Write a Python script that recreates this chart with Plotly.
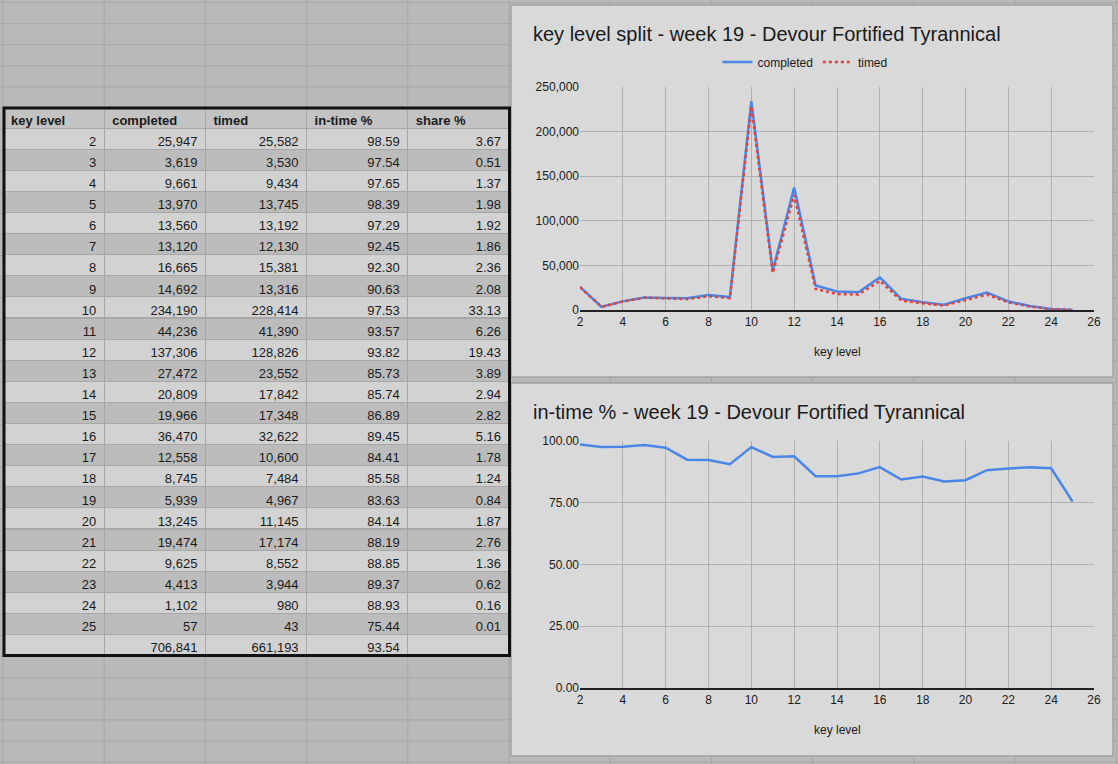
import plotly.graph_objects as go

# canvas size in pixels
W, H = 1118, 764

# sheet data
key_levels = [2, 3, 4, 5, 6, 7, 8, 9, 10, 11, 12, 13, 14, 15, 16, 17, 18, 19, 20, 21, 22, 23, 24, 25]
completed = [25947, 3619, 9661, 13970, 13560, 13120, 16665, 14692, 234190, 44236, 137306, 27472,
             20809, 19966, 36470, 12558, 8745, 5939, 13245, 19474, 9625, 4413, 1102, 57]
timed = [25582, 3530, 9434, 13745, 13192, 12130, 15381, 13316, 228414, 41390, 128826, 23552,
         17842, 17348, 32622, 10600, 7484, 4967, 11145, 17174, 8552, 3944, 980, 43]
in_time_pct = [98.59, 97.54, 97.65, 98.39, 97.29, 92.45, 92.30, 90.63, 97.53, 93.57, 93.82, 85.73,
               85.74, 86.89, 89.45, 84.41, 85.58, 83.63, 84.14, 88.19, 88.85, 89.37, 88.93, 75.44]
share_pct = [3.67, 0.51, 1.37, 1.98, 1.92, 1.86, 2.36, 2.08, 33.13, 6.26, 19.43, 3.89,
             2.94, 2.82, 5.16, 1.78, 1.24, 0.84, 1.87, 2.76, 1.36, 0.62, 0.16, 0.01]
total_completed = 706841
total_timed = 661193
total_in_time = 93.54

headers = ["key level", "completed", "timed", "in-time %", "share %"]

FONT = "Liberation Sans, Arial, sans-serif"
SHEET_BG = "#b9b9b9"
SHEET_LINE = "#a7a7a7"
CHART_BG = "#d9d9d9"
GRID = "#b0b0b0"
BLUE = "#4a86e8"
RED = "#e0443a"
TEXT = "#1a1a1a"


def fx(px):
    return px / W


def fy(py):
    return 1 - py / H


# table columns as displayed text (last row = totals)
col_key = [str(k) for k in key_levels] + [""]
col_completed = [f"{v:,}" for v in completed] + [f"{total_completed:,}"]
col_timed = [f"{v:,}" for v in timed] + [f"{total_timed:,}"]
col_in_time = [f"{v:.2f}" for v in in_time_pct] + [f"{total_in_time:.2f}"]
col_share = [f"{v:.2f}" for v in share_pct] + [""]

n_rows = len(col_key)
row_colors = ["#d2d2d2" if i % 2 == 0 else "#bcbcbc" for i in range(n_rows)]

fig = go.Figure()

fig.add_trace(go.Table(
    domain=dict(x=[fx(3), fx(510)], y=[fy(662), fy(107)]),
    columnwidth=[1, 1, 1, 1, 1],
    header=dict(
        values=headers,
        align="left",
        height=21.1,
        fill_color="#c3c3c3",
        line=dict(color=SHEET_LINE, width=1),
        font=dict(family=FONT, size=13, color=TEXT, weight="bold"),
    ),
    cells=dict(
        values=[col_key, col_completed, col_timed, col_in_time, col_share],
        align="right",
        height=21.1,
        fill_color=[row_colors] * 5,
        line=dict(color=SHEET_LINE, width=1),
        font=dict(family=FONT, size=13, color=TEXT),
    ),
))

# top chart: completed vs timed
fig.add_trace(go.Scatter(
    x=key_levels, y=completed, mode="lines", name="completed",
    line=dict(color=BLUE, width=2.5), xaxis="x", yaxis="y",
))
fig.add_trace(go.Scatter(
    x=key_levels, y=timed, mode="lines", name="timed",
    line=dict(color=RED, width=2.5, dash="dot"), xaxis="x", yaxis="y",
))

# bottom chart: in-time %
fig.add_trace(go.Scatter(
    x=key_levels, y=in_time_pct, mode="lines", name="in-time %",
    line=dict(color=BLUE, width=2.5), xaxis="x2", yaxis="y2", showlegend=False,
))

# spreadsheet grid behind everything
shapes = []
for k in range(12):
    x = 3 + 101.2 * k
    shapes.append(dict(type="line", xref="paper", yref="paper", layer="below",
                       x0=fx(x), x1=fx(x), y0=0, y1=1,
                       line=dict(color=SHEET_LINE, width=1)))
for k in range(37):
    y = 2.5 + 21.1 * k
    shapes.append(dict(type="line", xref="paper", yref="paper", layer="below",
                       x0=0, x1=1, y0=fy(y), y1=fy(y),
                       line=dict(color=SHEET_LINE, width=1)))

# chart cards
for top, bottom in [(5, 377), (383, 756)]:
    shapes.append(dict(type="rect", xref="paper", yref="paper", layer="below",
                       x0=fx(511), x1=fx(1113), y0=fy(bottom), y1=fy(top),
                       fillcolor=CHART_BG, line=dict(color="#a3a3a3", width=1.5)))

# thick border around the table
shapes.append(dict(type="rect", xref="paper", yref="paper", layer="above",
                   x0=fx(4), x1=fx(509.5), y0=fy(655.5), y1=fy(108),
                   line=dict(color="#111111", width=3)))

annotations = [
    dict(text="key level split - week 19 - Devour Fortified Tyrannical",
         x=fx(531), y=fy(34), xref="paper", yref="paper", xanchor="left", yanchor="middle",
         showarrow=False, font=dict(family=FONT, size=20, color=TEXT)),
    dict(text="in-time % - week 19 - Devour Fortified Tyrannical",
         x=fx(531), y=fy(412), xref="paper", yref="paper", xanchor="left", yanchor="middle",
         showarrow=False, font=dict(family=FONT, size=20, color=TEXT)),
    dict(text="key level", x=fx(837), y=fy(352), xref="paper", yref="paper",
         xanchor="center", yanchor="middle", showarrow=False,
         font=dict(family=FONT, size=12, color=TEXT)),
    dict(text="key level", x=fx(837), y=fy(730), xref="paper", yref="paper",
         xanchor="center", yanchor="middle", showarrow=False,
         font=dict(family=FONT, size=12, color=TEXT)),
]

x_common = dict(range=[2, 26], tick0=2, dtick=2, showgrid=True, gridcolor=GRID, gridwidth=1,
                showline=True, linecolor="#222222", linewidth=1.5, zeroline=False, ticks="",
                tickfont=dict(family=FONT, size=12, color=TEXT), fixedrange=True)
y_common = dict(showgrid=True, gridcolor=GRID, gridwidth=1, zeroline=False, showline=False,
                ticks="", tickfont=dict(family=FONT, size=12, color=TEXT), fixedrange=True)

fig.update_layout(
    width=W, height=H,
    margin=dict(l=0, r=0, t=0, b=0, autoexpand=False),
    paper_bgcolor=SHEET_BG,
    plot_bgcolor=CHART_BG,
    font=dict(family=FONT, size=12, color=TEXT),
    showlegend=True,
    legend=dict(orientation="h", x=fx(805), xanchor="center", y=fy(62), yanchor="middle",
                bgcolor="rgba(0,0,0,0)", font=dict(family=FONT, size=12, color=TEXT)),
    xaxis=dict(domain=[fx(580), fx(1094)], anchor="y", **x_common),
    yaxis=dict(domain=[fy(310), fy(87)], anchor="x", range=[0, 250000], dtick=50000,
               tickformat=",", **y_common),
    xaxis2=dict(domain=[fx(580), fx(1094)], anchor="y2", **x_common),
    yaxis2=dict(domain=[fy(688), fy(441)], anchor="x2", range=[0, 100], dtick=25,
                tickformat=".2f", **y_common),
    shapes=shapes,
    annotations=annotations,
)

# drop the default page margin so the figure fills the window exactly
fig.write_html(
    "out.html",
    config={"displayModeBar": False},
    post_script="document.body.style.margin='0px';document.body.style.overflow='hidden';",
)
